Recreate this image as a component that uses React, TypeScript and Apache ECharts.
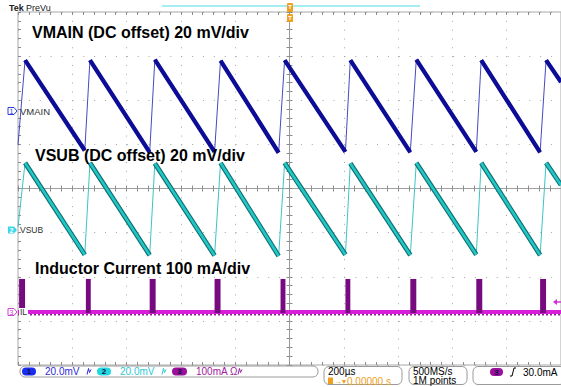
import React, { useEffect, useRef } from "react";
import * as echarts from "echarts";

// time in µs (200 µs/div, trigger at 0), amplitude in divisions
const peakTimes = [-974, -735, -496, -254, -18, 224, 467, 706, 945];
const troughTimes = [-754, -515, -276, -40, 206, 445, 688, 923];
const vmainPeaks = [2.91, 2.91, 2.92, 2.9, 2.91, 2.91, 2.92, 2.91, 2.91];
const vmainTroughs = [0.86, 0.82, 0.83, 0.81, 0.83, 0.82, 0.83, 0.82];
const vmainStart = [-1000, 0.99];
const vmainEnd = [1000, 2.41];

const vsubPeaks = [0.58, 0.58, 0.57, 0.58, 0.58, 0.57, 0.58, 0.58, 0.58];
const vsubTroughs = [-1.5, -1.51, -1.52, -1.53, -1.5, -1.51, -1.5, -1.51];
const vsubStart = [-1000, -0.87];
const vsubEnd = [1000, 0.08];

const ilBase = -2.8;
const ilNoise = -2.86;
const pulseStart = [-996, -750, -515, -276, -33, 206, 445, 688, 923];
const pulseEnd = [-974, -732, -493, -254, -15, 224, 467, 710, 945];
const pulseTop = [-2.05, -2.05, -2.05, -2.05, -2.05, -2.05, -2.05, -2.05, -2.05];

const BR = ["-", "-"];

function buildWave(start: number[], end: number[], peaks: number[], troughs: number[]) {
  const full: any[] = [start];
  const ramps: any[] = [];
  peakTimes.forEach((t, i) => {
    full.push([t, peaks[i]]);
    ramps.push([t, peaks[i]]);
    if (i < troughTimes.length) {
      full.push([troughTimes[i], troughs[i]]);
      ramps.push([troughTimes[i], troughs[i]]);
    } else {
      full.push(end);
      ramps.push(end);
    }
    ramps.push(BR);
  });
  return { full, ramps };
}

const FONT = "'Liberation Sans', Arial, sans-serif";

export default function App() {
  const ref = useRef<HTMLDivElement>(null);
  useEffect(() => {
    const chart = echarts.init(ref.current!, undefined, { renderer: "svg" });
    const vm = buildWave(vmainStart, vmainEnd, vmainPeaks, vmainTroughs);
    const vs = buildWave(vsubStart, vsubEnd, vsubPeaks, vsubTroughs);
    const tickCol = "#8c8c8c";
    const hidden = { show: false };
    const baseX = {
      type: "value",
      min: -1000,
      max: 1000,
      interval: 200,
      axisLabel: hidden,
      splitLine: hidden,
    };
    const baseY = {
      type: "value",
      min: -4,
      max: 4,
      interval: 1,
      axisLabel: hidden,
      splitLine: hidden,
    };
    const tk = (inside: boolean) => ({
      axisTick: { show: true, inside, length: 3, lineStyle: { color: tickCol } },
      minorTick: { show: true, splitNumber: 5, length: 3, lineStyle: { color: tickCol } },
    });
    const status = (x: number, y: number, text: string, fill: string, extra: any = {}) => ({
      type: "text",
      x,
      y,
      z: 100,
      style: { text, fill, font: `10px ${FONT}`, verticalAlign: "middle", ...extra },
    });
    const status2 = (x: number, y: number, text: string) => ({
      type: "text",
      x,
      y,
      z: 100,
      style: { text, fill: "#000", font: `10px ${FONT}`, verticalAlign: "top", lineHeight: 9.5 },
    });
    const oval = (x: number, y: number, w: number, fill: string, num: string) => [
      { type: "rect", z: 100, shape: { x, y: y - 4, width: w, height: 8, r: 4 }, style: { fill } },
      {
        type: "text",
        z: 101,
        x: x + w / 2,
        y,
        style: { text: num, fill: "#10104a", font: `bold 8px ${FONT}`, align: "center", verticalAlign: "middle" },
      },
    ];
    const zig = (x: number, y: number, c: string) => ({
      type: "polyline",
      z: 100,
      shape: { points: [[x, y + 3], [x + 1.5, y - 3], [x + 2.5, y + 1], [x + 4, y - 2]] },
      style: { stroke: c, lineWidth: 1, fill: null },
    });
    const box = (x: number, y: number, w: number, h: number) => ({
      type: "rect",
      z: 99,
      shape: { x, y, width: w, height: h, r: 5 },
      style: { fill: "#fff", stroke: "#9a9a9a", lineWidth: 1 },
    });

    chart.setOption({
      animation: false,
      backgroundColor: "#ffffff",
      grid: {
        left: 18,
        top: 12,
        width: 544,
        height: 353,
        show: true,
        borderColor: "#a8a8a8",
        borderWidth: 1,
        backgroundColor: "transparent",
      },
      xAxis: [
        {
          ...baseX,
          axisLine: { show: false, onZero: false },
          axisTick: hidden,
          splitLine: { show: true, lineStyle: { color: "#a4a4a4", width: 1, type: [1, 7.825] } },
        },
        { ...baseX, position: "bottom", axisLine: { show: true, onZero: true, onZeroAxisIndex: 0, lineStyle: { color: "#a0a0a0" } }, ...tk(false) },
        { ...baseX, position: "bottom", axisLine: { show: true, onZero: true, onZeroAxisIndex: 0, lineStyle: { color: "#a0a0a0" } }, ...tk(true) },
        { ...baseX, position: "top", axisLine: { show: false, onZero: false }, ...tk(true) },
        { ...baseX, position: "bottom", axisLine: { show: false, onZero: false }, ...tk(true) },
      ],
      yAxis: [
        {
          ...baseY,
          axisLine: { show: false, onZero: false },
          axisTick: hidden,
          splitLine: { show: true, lineStyle: { color: "#a4a4a4", width: 1, type: [1, 9.88] } },
        },
        { ...baseY, position: "left", axisLine: { show: true, onZero: true, onZeroAxisIndex: 0, lineStyle: { color: "#999" } }, ...tk(false) },
        { ...baseY, position: "left", axisLine: { show: true, onZero: true, onZeroAxisIndex: 0, lineStyle: { color: "#999" } }, ...tk(true) },
        { ...baseY, position: "left", axisLine: { show: false, onZero: false }, ...tk(true) },
      ],
      series: [
        {
          name: "IL noise",
          type: "line",
          data: [[-1000, ilNoise], [1000, ilNoise]],
          showSymbol: false,
          lineStyle: { color: "#8a2a8a", width: 1.5, type: [2, 2] },
          z: 3,
        },
        {
          name: "IL",
          type: "line",
          data: [[-1000, ilBase], [1000, ilBase]],
          showSymbol: false,
          lineStyle: { color: "#d81ed8", width: 4 },
          z: 4,
        },
        {
          name: "IL pulses",
          type: "custom",
          z: 5,
          encode: { x: [0, 1], y: [2, 3] },
          data: pulseStart.map((s, i) => [s, pulseEnd[i], ilBase, pulseTop[i]]),
          renderItem: (params: any, api: any) => {
            const p0 = api.coord([api.value(0), api.value(3)]);
            const p1 = api.coord([api.value(1), api.value(2)]);
            return {
              type: "rect",
              shape: { x: p0[0], y: p0[1], width: p1[0] - p0[0], height: p1[1] - p0[1] + 1 },
              style: { fill: "#780a80" },
            };
          },
        },
        {
          name: "VSUB",
          type: "line",
          data: vs.full,
          showSymbol: false,
          lineStyle: { color: "#3cc4c4", width: 1 },
          z: 6,
        },
        {
          name: "VSUB ramp outer",
          type: "line",
          data: vs.ramps,
          showSymbol: false,
          lineStyle: { color: "#0f7070", width: 4.8 },
          z: 7,
        },
        {
          name: "VSUB ramp",
          type: "line",
          data: vs.ramps,
          showSymbol: false,
          lineStyle: { color: "#22c6c6", width: 2.6 },
          z: 8,
        },
        {
          name: "VMAIN",
          type: "line",
          data: vm.full,
          showSymbol: false,
          lineStyle: { color: "#4848c4", width: 1 },
          z: 9,
        },
        {
          name: "VMAIN ramp",
          type: "line",
          data: vm.ramps,
          showSymbol: false,
          lineStyle: { color: "#0c0c96", width: 4.3 },
          z: 10,
        },
      ],
      graphic: [
        // header
        { type: "text", x: 9, y: 8, z: 100, style: { text: "Tek", fill: "#202020", font: `bold 9px ${FONT}`, verticalAlign: "middle" } },
        { type: "text", x: 26, y: 7.5, z: 100, style: { text: "PreVu", fill: "#202020", font: `9px ${FONT}`, verticalAlign: "middle" } },
        { type: "rect", z: 100, shape: { x: 162, y: 5, width: 258, height: 2 }, style: { fill: "#a6ecf0" } },
        { type: "rect", z: 101, shape: { x: 287, y: 3, width: 6, height: 9, r: 1 }, style: { fill: "#f0a020" } },
        { type: "rect", z: 101, shape: { x: 287, y: 14, width: 6, height: 8, r: 1 }, style: { fill: "#f0a020" } },
        { type: "text", z: 102, x: 290, y: 18, style: { text: "T", fill: "#fff", font: `bold 6px ${FONT}`, align: "center", verticalAlign: "middle" } },
        { type: "text", z: 102, x: 290, y: 7, style: { text: "T", fill: "#fff", font: `bold 6px ${FONT}`, align: "center", verticalAlign: "middle" } },
        // trace titles
        { type: "text", x: 32, y: 32, z: 100, style: { text: "VMAIN (DC offset) 20 mV/div", fill: "#000", font: `bold 16px ${FONT}`, verticalAlign: "middle" } },
        { type: "text", x: 35, y: 155.5, z: 100, style: { text: "VSUB (DC offset) 20 mV/div", fill: "#000", font: `bold 16px ${FONT}`, verticalAlign: "middle" } },
        { type: "text", x: 35, y: 268, z: 100, style: { text: "Inductor Current 100 mA/div", fill: "#000", font: `bold 16px ${FONT}`, verticalAlign: "middle" } },
        // channel markers
        { type: "polygon", z: 100, shape: { points: [[8, 107.5], [14, 107.5], [17, 111], [14, 114.5], [8, 114.5]] }, style: { fill: "#fff", stroke: "#2a3ae0", lineWidth: 1 } },
        { type: "text", z: 101, x: 11.5, y: 111, style: { text: "1", fill: "#2a3ae0", font: `7px ${FONT}`, align: "center", verticalAlign: "middle" } },
        { type: "text", z: 101, x: 20, y: 111, style: { text: "VMAIN", fill: "#303030", font: `9.5px ${FONT}`, verticalAlign: "middle" } },
        { type: "polygon", z: 100, shape: { points: [[8, 226.5], [14, 226.5], [17, 230], [14, 233.5], [8, 233.5]] }, style: { fill: "#3cd8e8" } },
        { type: "text", z: 101, x: 11.5, y: 230, style: { text: "2", fill: "#fff", font: `bold 7px ${FONT}`, align: "center", verticalAlign: "middle" } },
        { type: "text", z: 101, x: 20, y: 230, style: { text: "VSUB", fill: "#303030", font: `8.5px ${FONT}`, verticalAlign: "middle" } },
        { type: "polygon", z: 100, shape: { points: [[8, 308.5], [14, 308.5], [17, 312], [14, 315.5], [8, 315.5]] }, style: { fill: "#fff", stroke: "#d040d0", lineWidth: 1 } },
        { type: "text", z: 101, x: 11.5, y: 312, style: { text: "3", fill: "#d040d0", font: `7px ${FONT}`, align: "center", verticalAlign: "middle" } },
        { type: "rect", z: 100, shape: { x: 19, y: 308, width: 9, height: 8 }, style: { fill: "#fff" } },
        { type: "text", z: 101, x: 20, y: 312, style: { text: "IL", fill: "#303030", font: `8.5px ${FONT}`, verticalAlign: "middle" } },
        // trigger level arrow
        { type: "polygon", z: 100, shape: { points: [[553, 302], [557, 299], [557, 305]] }, style: { fill: "#d030d0" } },
        { type: "line", z: 100, shape: { x1: 556, y1: 302, x2: 561, y2: 302 }, style: { stroke: "#d030d0", lineWidth: 1.5 } },
        // status bar
        box(20, 366, 298, 11),
        ...oval(22, 371.5, 14, "#1a2cf0", "1"),
        status(45, 371.5, "20.0mV", "#2a2ad8"),
        zig(87, 371.5, "#2a2ad8"),
        ...oval(97, 371.5, 14, "#22d8e0", "2"),
        status(120, 371.5, "20.0mV", "#2cc8d6"),
        zig(162, 371.5, "#2cc8d6"),
        ...oval(172, 371.5, 15, "#9a109a", "3"),
        status(196, 371.5, "100mA Ω", "#a020a0"),
        zig(238, 371.5, "#a020a0"),
        box(324, 366.5, 78, 18),
        status(328, 371.5, "200µs", "#000"),
        { type: "rect", z: 100, shape: { x: 328, y: 377.5, width: 5, height: 6.5 }, style: { fill: "#f0a020" } },
        status(334, 381, "→▾", "#f0a020", { font: `8px ${FONT}` }),
        status(347, 381, "0.00000 s", "#f0a020"),
        box(409, 366.5, 58, 18),
        status2(413, 366.5, "500MS/s\n1M points"),
        box(473, 366.5, 92, 18),
        ...oval(490, 372, 13, "#9a109a", "3"),
        {
          type: "polyline",
          z: 100,
          shape: { points: [[510, 376], [512, 376], [514, 368], [516, 368]] },
          style: { stroke: "#000", lineWidth: 1, fill: null },
        },
        status(523, 372, "30.0mA", "#000"),
      ],
    });
    return () => chart.dispose();
  }, []);
  return (
    <div
      ref={ref}
      style={{ position: "fixed", left: 0, top: 0, width: 561, height: 387, background: "#fff" }}
    />
  );
}
